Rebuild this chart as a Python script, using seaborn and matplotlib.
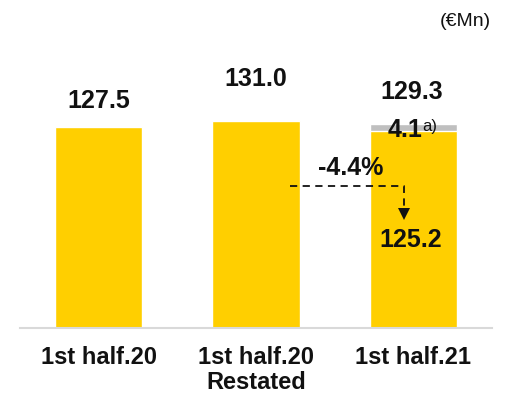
import matplotlib
matplotlib.use("Agg")
import matplotlib.pyplot as plt
import seaborn as sns
import pandas as pd

categories = ["1st half.20", "1st half.20\nRestated", "1st half.21"]
base_values = [127.5, 131.0, 125.2]
total_values = [127.5, 131.0, 129.3]
extra_value = 4.1
change_label = "-4.4%"
unit_label = "(€Mn)"

sns.set_theme(style="white")
plt.rcParams["font.family"] = ["Liberation Sans", "DejaVu Sans"]

df = pd.DataFrame({"cat": categories, "base": base_values, "total": total_values})

fig = plt.figure(figsize=(5.07, 3.94), dpi=100)
ax = fig.add_axes([20 / 507, (394 - 328) / 394, 472 / 507, 328 / 394])

yellow = "#FFCF00"
gray = "#BFBFBF"
sns.barplot(data=df, x="cat", y="total", color=gray, width=0.555, saturation=1, ax=ax)
sns.barplot(data=df, x="cat", y="base", color=yellow, width=0.555, saturation=1, ax=ax)

ax.set_xlim(-0.5, 2.5)
ax.set_ylim(0, 208)
ax.set_xlabel("")
ax.set_ylabel("")
ax.set_yticks([])
for s in ["top", "right", "left"]:
    ax.spines[s].set_visible(False)
ax.spines["bottom"].set_color("#D9D9D9")
ax.spines["bottom"].set_linewidth(1.5)
ax.tick_params(axis="x", length=0, pad=13)
for lab in ax.get_xticklabels():
    lab.set_fontsize(17)
    lab.set_fontweight("bold")
    lab.set_color("#111111")
    lab.set_linespacing(1.1)

# value labels on top
offsets = [26, 42, 32]
xshift = [0, 0, -2]
for i, (v, off) in enumerate(zip(total_values, offsets)):
    ax.annotate(f"{v:.1f}", xy=(i, v), xytext=(xshift[i], off), textcoords="offset pixels",
                ha="center", va="center", fontsize=18, fontweight="bold", color="#111111")

# extra segment label
ax.annotate(f"{extra_value:.1f}", xy=(2, total_values[2]), xytext=(-8, -6), textcoords="offset pixels",
            ha="center", va="center", fontsize=18, fontweight="bold", color="#111111")
ax.annotate("a)", xy=(2, total_values[2]), xytext=(9, -2), textcoords="offset pixels",
            ha="left", va="center", fontsize=12, color="#111111")

# base value label inside bar
ax.text(1.985, 55.8, f"{base_values[2]:.1f}", ha="center", va="center",
        fontsize=18, fontweight="bold", color="#111111")

# dashed change arrow
x0, x1 = 1.213, 1.94
yline, yend = 90.1, 74.5
ax.plot([x0, x1, x1], [yline, yline, yend], ls=(0, (4, 3)), color="#111111", lw=1.3)
ax.plot([x1], [72.5], marker="v", markersize=9, color="#111111", markeredgewidth=0)
ax.text(1.60, 101.5, change_label, ha="center", va="center", fontsize=18,
        fontweight="bold", color="#111111")

fig.text(465 / 507, 1 - 22 / 394, unit_label, ha="center", va="center", fontsize=14, color="#111111")

fig.savefig("out.png", dpi=100)
